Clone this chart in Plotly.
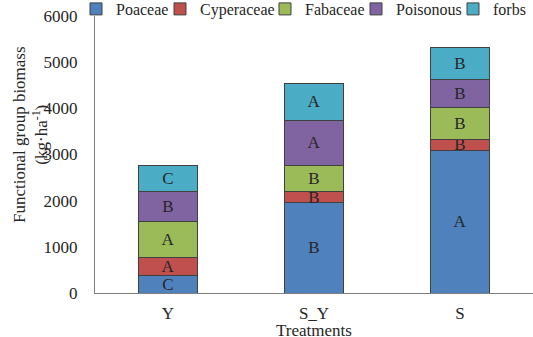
import plotly.graph_objects as go

treatments = ["Y", "S_Y", "S"]
groups = ["Poaceae", "Cyperaceae", "Fabaceae", "Poisonous", "forbs"]
colors = ["#4F81BD", "#C0504D", "#9BBB59", "#8064A2", "#4BACC6"]
poaceae = [383, 1964, 3082]
cyperaceae = [390, 230, 253]
fabaceae = [771, 578, 678]
poisonous = [659, 975, 607]
forbs = [554, 801, 693]
letters_poaceae = ["C", "B", "A"]
letters_cyperaceae = ["A", "B", "B"]
letters_fabaceae = ["A", "B", "B"]
letters_poisonous = ["B", "A", "B"]
letters_forbs = ["C", "A", "B"]

values = [poaceae, cyperaceae, fabaceae, poisonous, forbs]
letters = [letters_poaceae, letters_cyperaceae, letters_fabaceae, letters_poisonous, letters_forbs]
yticks = [0, 1000, 2000, 3000, 4000, 5000, 6000]

FONT = "Liberation Serif"
TXT = "#262626"
W, H = 533, 337
# left edge of each legend box (px from left of the page)
legend_box_x = [76, 160, 265, 356, 453]
legend_names = ["legend", "legend2", "legend3", "legend4", "legend5"]

fig = go.Figure()
for name, col, vals, lab, lg in zip(groups, colors, values, letters, legend_names):
    fig.add_trace(go.Bar(
        x=treatments, y=vals, name=name, text=lab,
        textposition="inside", insidetextanchor="middle", textangle=0,
        constraintext="none",
        textfont=dict(family=FONT, size=17, color=TXT),
        marker=dict(color=col, line=dict(color="#404040", width=1)),
        width=0.4, legend=lg,
    ))

layout_legends = {}
for lg, bx in zip(legend_names, legend_box_x):
    layout_legends[lg] = dict(
        orientation="h", xref="container", yref="container",
        x=bx / W, xanchor="left", y=1 - 9 / H, yanchor="middle",
        font=dict(family=FONT, size=16, color=TXT),
        itemwidth=30, bgcolor="rgba(0,0,0,0)", borderwidth=0,
    )

fig.update_layout(
    barmode="stack",
    width=W, height=H,
    margin=dict(l=95, r=0, t=16, b=44, autoexpand=False),
    paper_bgcolor="white", plot_bgcolor="white",
    font=dict(family=FONT, size=17, color=TXT),
    showlegend=True,
    **layout_legends,
    xaxis=dict(showline=True, linecolor="#808080", linewidth=1, ticks="",
               tickfont=dict(size=17), ticklabelstandoff=5),
    yaxis=dict(range=[0, 6000], tickvals=yticks, showgrid=False, showline=True,
               linecolor="#808080", linewidth=1, ticks="", zeroline=False,
               tickfont=dict(size=17), ticklabelstandoff=13),
    annotations=[
        dict(text="Functional group biomass<br>(kg·ha<sup>-1</sup>)",
             textangle=-90, xref="paper", yref="paper",
             x=(30 - 95) / 438, y=(293 - 135) / 277, xanchor="center", yanchor="middle",
             showarrow=False, font=dict(family=FONT, size=17, color=TXT)),
        dict(text="Treatments", xref="paper", yref="paper",
             x=0.5, y=(293 - 330) / 277, xanchor="center", yanchor="middle",
             showarrow=False, font=dict(family=FONT, size=17, color=TXT)),
    ],
)
fig.write_html("out.html", config={"displayModeBar": False},
               post_script="document.body.style.margin='0';")
